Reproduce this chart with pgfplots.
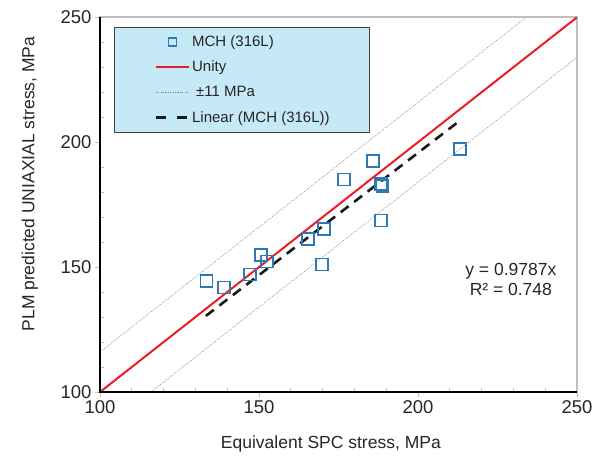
\documentclass[border=0pt]{standalone}
\usepackage{pgfplots}
\pgfplotsset{compat=1.18}
\usepackage{fontspec}
\setmainfont{Liberation Sans}
\definecolor{mblue}{HTML}{2E78B4}
\definecolor{ured}{HTML}{EC1C24}
\definecolor{legfill}{HTML}{C6E9F8}
\definecolor{axgray}{HTML}{BFBFBF}
\definecolor{txt}{HTML}{262626}
\begin{document}
\begin{tikzpicture}
\useasboundingbox (-100bp,-67bp) rectangle (506bp,392bp);
\begin{axis}[
  at={(0,0)}, anchor=south west,
  scale only axis, width=477bp, height=374.7bp,
  xmin=100, xmax=250, ymin=100, ymax=250,
  xtick={100,150,200,250}, ytick={100,150,200,250},
  minor tick num=4,
  xtick pos=bottom, ytick pos=left,
  tick align=outside,
  major tick length=5bp,
  minor tick length=-4bp,
  tick style={axgray, line width=0.8bp},
  axis line style={axgray, line width=1.6bp},
  /pgf/number format/assume math mode=true,
  tick label style={font=\fontsize{18.5bp}{20bp}\selectfont, text=txt},
  label style={font=\fontsize{17.5bp}{20bp}\selectfont, text=txt},
  xlabel={Equivalent SPC stress, MPa},
  ylabel={PLM predicted UNIAXIAL stress, MPa},
  xlabel style={at={(axis description cs:0.484,-0.139)}, anchor=center},
  ylabel style={at={(axis description cs:-0.147,0.555)}, anchor=center},
  legend style={at={(axis description cs:0.0294,0.974)}, anchor=north west,
    fill=legfill, draw=black!75, line width=1bp,
    font=\fontsize{15bp}{17bp}\selectfont, text=txt,
    inner xsep=40bp, inner ysep=1.7bp, column sep=2bp,
    nodes={inner sep=0pt, minimum height=25.3bp}},
  legend cell align=left,
]
\addplot[only marks, mark=square, mark size=6bp, mark options={draw=mblue, line width=1.6bp},
  legend image code/.code={\draw[mark=square, mark size=4bp, mark options={solid, draw=mblue, line width=1.6bp}] plot coordinates {(16.5bp,0bp)};}]
  coordinates {(133.5,144.4) (139.0,141.8) (147.2,147.1) (150.6,154.8) (152.6,152.2)
  (165.5,161.2) (170.5,165.3) (169.8,151.1) (176.7,185.1) (185.9,192.5)
  (188.3,183.2) (188.8,182.5) (188.3,168.7) (213.2,197.2)};
\addlegendentry{MCH (316L)}
\addplot[ured, line width=2bp,
  legend image code/.code={\draw[ured, line width=2bp] (0bp,0bp) -- (33bp,0bp);}]
  coordinates {(100,100) (250,250)};
\addlegendentry{Unity}
\addplot[gray, line width=0.5bp, dash pattern=on 1.2bp off 1.2bp,
  legend image code/.code={\draw[gray, line width=0.5bp, dash pattern=on 1.2bp off 1.2bp] (0bp,0bp) -- (33bp,0bp);}]
  coordinates {(100,116) (234,250)};
\addlegendentry{\hspace{4bp}±11 MPa}
\addplot[gray, line width=0.5bp, dash pattern=on 1.2bp off 1.2bp, forget plot]
  coordinates {(116,100) (250,234)};
\addplot[black!90, line width=2.6bp, dash pattern=on 10bp off 7bp,
  legend image code/.code={\draw[black!90, line width=2.6bp, dash pattern=on 10bp off 11bp] (0bp,0bp) -- (33bp,0bp);}]
  coordinates {(133.3,130.46) (213.3,208.76)};
\addlegendentry{Linear (MCH (316L))}
\node[align=center, font=\fontsize{17.5bp}{20bp}\selectfont, text=txt] at (axis cs:229.2,145.2) {y = 0.9787x\\R² = 0.748};
\end{axis}
\draw[black, line width=1.1bp] (current axis.north west) -- (current axis.south west) -- (current axis.south east);
\end{tikzpicture}
\end{document}
